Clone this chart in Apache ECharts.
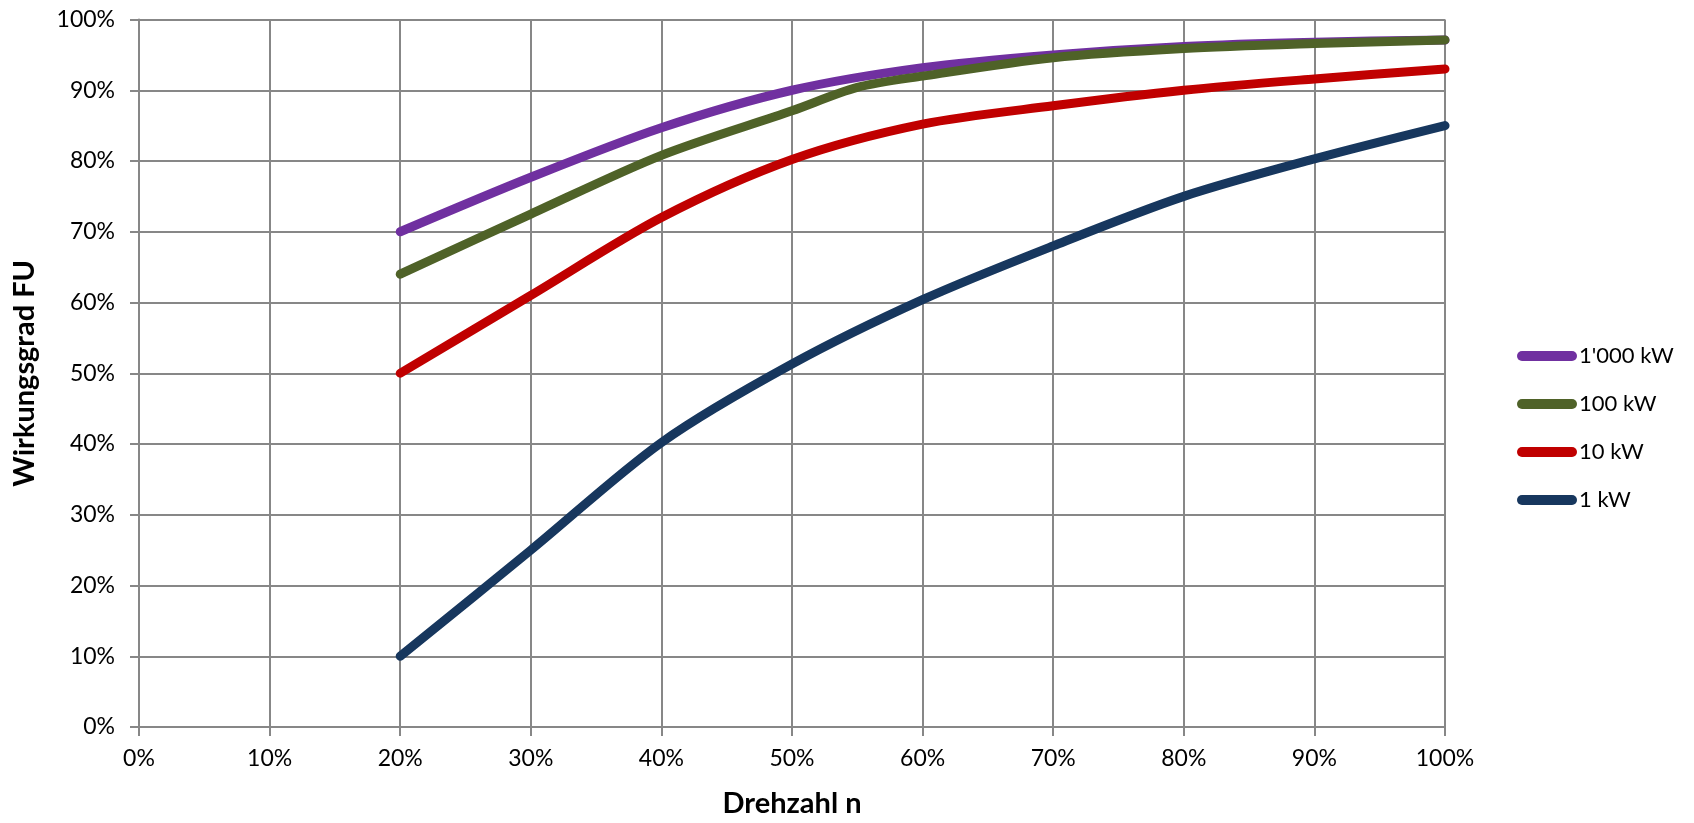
<!DOCTYPE html>
<html>
<head>
<meta charset="utf-8">
<script src="https://cdn.jsdelivr.net/npm/echarts@6/dist/echarts.min.js"></script>
<style>
html,body{margin:0;padding:0;background:#fff;}
#chart{width:1694px;height:823px;}
</style>
</head>
<body>
<div id="chart"></div>
<script>
const seriesNames = ["1'000 kW", "100 kW", "10 kW", "1 kW"];
const seriesColors = ["#7030A0", "#4F6228", "#C00000", "#17375E"];
const xAxisTicks = [0, 10, 20, 30, 40, 50, 60, 70, 80, 90, 100];
const yAxisTicks = [0, 10, 20, 30, 40, 50, 60, 70, 80, 90, 100];

const x_1000kW = [20, 30, 40, 50, 60, 70, 80, 90, 100];
const y_1000kW = [70, 77.7, 84.7, 90, 93.2, 95, 96.2, 96.8, 97.1];
const x_100kW = [20, 30, 40, 50, 55, 60, 70, 80, 90, 100];
const y_100kW = [64, 72.5, 80.8, 87.1, 90.4, 92, 94.6, 95.9, 96.6, 97.1];
const x_10kW = [20, 30, 40, 50, 60, 70, 80, 90, 100];
const y_10kW = [50, 61, 72, 80.2, 85.2, 87.8, 90, 91.6, 93];
const x_1kW = [20, 30, 40, 50, 60, 70, 80, 90, 100];
const y_1kW = [10, 25, 40.2, 51.3, 60.4, 68, 75, 80.3, 85];

const xs = [x_1000kW, x_100kW, x_10kW, x_1kW];
const ys = [y_1000kW, y_100kW, y_10kW, y_1kW];

const FONT = 'Lato';
const GRIDC = '#878787';

const chart = echarts.init(document.getElementById('chart'), null, {renderer: 'canvas'});
const legendIcon = 'path://M5,0 L55,0 A5,5 0 0 1 55,10 L5,10 A5,5 0 0 1 5,0 Z';

chart.setOption({
  animation: false,
  backgroundColor: '#ffffff',
  textStyle: {fontFamily: FONT},
  grid: {left: 139, right: 249, top: 19.5, bottom: 95.5, containLabel: false},
  legend: {
    orient: 'vertical',
    left: 1512,
    top: 340,
    itemWidth: 60,
    itemHeight: 10,
    itemGap: 26,
    icon: legendIcon,
    data: seriesNames,
    textStyle: {fontFamily: FONT, fontSize: 22, color: '#000', lineHeight: 22, padding: [0,0,0,-3]}
  },
  xAxis: {
    type: 'value',
    min: xAxisTicks[0],
    max: xAxisTicks[xAxisTicks.length - 1],
    interval: 10,
    name: 'Drehzahl n',
    nameLocation: 'middle',
    nameGap: 62,
    nameTextStyle: {fontFamily: FONT, fontWeight: 'bold', fontSize: 29, color: '#000'},
    axisLine: {show: true, lineStyle: {color: GRIDC, width: 2}},
    axisTick: {show: true, length: 9, lineStyle: {color: GRIDC, width: 2}},
    axisLabel: {formatter: '{value}%', fontFamily: FONT, fontSize: 23, color: '#000', margin: 20},
    splitLine: {show: true, lineStyle: {color: GRIDC, width: 2}}
  },
  yAxis: {
    type: 'value',
    min: yAxisTicks[0],
    max: yAxisTicks[yAxisTicks.length - 1],
    interval: 10,
    name: 'Wirkungsgrad FU',
    nameLocation: 'middle',
    nameGap: 100,
    nameTextStyle: {fontFamily: FONT, fontWeight: 'bold', fontSize: 29, color: '#000'},
    axisLine: {show: true, lineStyle: {color: GRIDC, width: 2}},
    axisTick: {show: true, length: 9, lineStyle: {color: GRIDC, width: 2}},
    axisLabel: {formatter: '{value}%', fontFamily: FONT, fontSize: 23, color: '#000', margin: 24},
    splitLine: {show: true, lineStyle: {color: GRIDC, width: 2}}
  },
  series: seriesNames.map((name, i) => ({
    name: name,
    type: 'line',
    data: xs[i].map((x, j) => [x, ys[i][j]]),
    smooth: 0.3,
    showSymbol: false,
    symbol: 'none',
    color: seriesColors[i],
    lineStyle: {color: seriesColors[i], width: 9, cap: 'round', join: 'round'},
    z: 2 + i
  }))
});
</script>
</body>
</html>
